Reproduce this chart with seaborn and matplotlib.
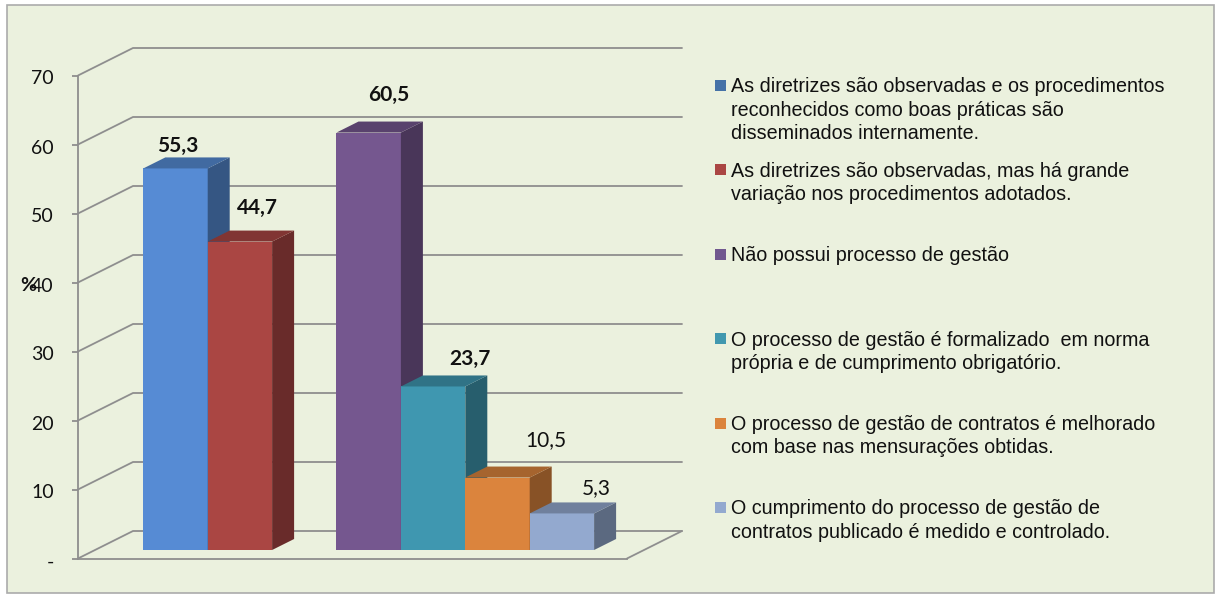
import matplotlib
matplotlib.use('Agg')
import matplotlib.pyplot as plt
import matplotlib.transforms as mtransforms
from matplotlib.patches import Polygon, Rectangle
from matplotlib.colors import to_rgb
import seaborn as sns

categories = ['As diretrizes', 'Variacao', 'Nao possui', 'Formalizado', 'Melhorado', 'Medido']
values = [55.3, 44.7, 60.5, 23.7, 10.5, 5.3]
value_labels = ['55,3', '44,7', '60,5', '23,7', '10,5', '5,3']
legend_labels = [
    'As diretrizes são observadas e os procedimentos\nreconhecidos como boas práticas são\ndisseminados internamente.',
    'As diretrizes são observadas, mas há grande\nvariação nos procedimentos adotados.',
    'Não possui processo de gestão',
    'O processo de gestão é formalizado  em norma\nprópria e de cumprimento obrigatório.',
    'O processo de gestão de contratos é melhorado\ncom base nas mensurações obtidas.',
    'O cumprimento do processo de gestão de\ncontratos publicado é medido e controlado.',
]
y_ticks = [0, 10, 20, 30, 40, 50, 60, 70]
y_tick_labels = ['-', '10', '20', '30', '40', '50', '60', '70']

bar_colors = ['#568BD4', '#AA4643', '#75578F', '#3F97B0', '#DB843D', '#93A9CF']
legend_colors = ['#4572A7', '#AA4643', '#71588F', '#4198AF', '#DB843D', '#93A9CF']
label_bold = [True, True, True, True, False, False]
label_offsets = [(2, 22), (18, 34), (20, 38), (37, 28), (48, 37), (34, 25)]

W, H = 1222, 595
GRID = '#8E8E8E'
BG = '#EBF1DE'

sns.set_theme(style='white')
plt.rcParams['font.family'] = ['Liberation Sans', 'DejaVu Sans']

fig = plt.figure(figsize=(W / 100, H / 100), dpi=100, facecolor='white')


def px_axes(left, right, top, bottom):
    # axes box given in image pixels, y going down
    return fig.add_axes([left / W, 1 - bottom / H, (right - left) / W, (bottom - top) / H])


fig.patches.append(Rectangle((7.5 / W, 1 - 593 / H), (1214 - 7.5) / W, (593 - 5) / H, transform=fig.transFigure,
                             facecolor=BG, edgecolor='#ABABAB', linewidth=1.2, figure=fig, zorder=-5))

# walls and floor
wall_ax = px_axes(78, 627, 75.5, 558.5)
wall_ax.patch.set_visible(False)
wall_ax.set_xlim(0, 1)
wall_ax.set_ylim(0, 70)
depth_x = 55 / 549
depth_y = 27.5 * 70 / 483
for v in y_ticks:
    # back wall line plus its diagonal on the left wall
    wall_ax.plot([0, depth_x, 1 + depth_x], [v, v + depth_y, v + depth_y], color=GRID, lw=1.3, clip_on=False)
wall_ax.plot([1, 1 + depth_x], [0, depth_y], color=GRID, lw=1.3, clip_on=False)
sns.despine(ax=wall_ax, top=True, right=True)
for side in ['left', 'bottom']:
    wall_ax.spines[side].set_color(GRID)
    wall_ax.spines[side].set_linewidth(1.3)
wall_ax.set_xticks([])
wall_ax.set_yticks(y_ticks)
wall_ax.set_yticklabels(y_tick_labels, family='Lato', fontsize=14, color='#111111')
wall_ax.tick_params(axis='y', left=True, length=4.5, width=1.3, color=GRID, pad=13)
for tick_label in wall_ax.get_yticklabels():
    tick_label.set_transform(tick_label.get_transform() + mtransforms.Affine2D().translate(0, -2))

# bars, one empty slot between the two groups
ax = px_axes(78, 683, 67, 550)
ax.patch.set_visible(False)
order = categories[:2] + [''] + categories[2:]
sns.barplot(x=categories, y=values, order=order, hue=categories, hue_order=categories,
            palette=bar_colors, width=1, dodge=False, saturation=1, legend=False, linewidth=0, ax=ax)
slot = 64.4
ax.set_xlim((78 - 175.5) / slot, (683 - 175.5) / slot)
ax.set_ylim(0, 70)
ax.axis('off')

dx = 22 / slot
dy = 11 / 6.9
bars = sorted([p for p in ax.patches if p.get_height() > 0], key=lambda p: p.get_x())


def shade(color, f):
    return tuple(c * f for c in to_rgb(color))


for i, bar in enumerate(bars):
    x0, w, h = bar.get_x(), bar.get_width(), bar.get_height()
    x1 = x0 + w
    bar.set_zorder(3 + i)
    side = Polygon([(x1, 0), (x1 + dx, dy), (x1 + dx, h + dy), (x1, h)], closed=True,
                   facecolor=shade(bar_colors[i], 0.62), edgecolor='none', zorder=3 + i, clip_on=False)
    top = Polygon([(x0, h), (x0 + dx, h + dy), (x1 + dx, h + dy), (x1, h)], closed=True,
                  facecolor=shade(bar_colors[i], 0.76), edgecolor='none', zorder=3 + i, clip_on=False)
    ax.add_patch(side)
    ax.add_patch(top)
    ax.annotate(value_labels[i], xy=(x0 + w / 2, h), xytext=label_offsets[i], textcoords='offset pixels',
                ha='center', va='center', family='Lato', fontsize=15,
                fontweight='bold' if label_bold[i] else 'normal', color='#111111', annotation_clip=False, zorder=20)

fig.text(28 / W, 1 - 285 / H, '%', ha='center', va='center', family='Lato', fontweight='bold', fontsize=14, color='#111111')

# legend written out because the rows are evenly spaced whatever their line count
for i, label in enumerate(legend_labels):
    row_y = 85.5 + i * 84.4
    fig.patches.append(Rectangle((715 / W, 1 - (row_y + 5.5) / H), 11 / W, 11 / H, transform=fig.transFigure,
                                 facecolor=legend_colors[i], edgecolor='none', figure=fig))
    fig.text(731 / W, 1 - (row_y - 8) / H, label, ha='left', va='top', fontsize=14.2, linespacing=1.28, color='#111111')

fig.savefig('out.png', dpi=100, facecolor='white')
